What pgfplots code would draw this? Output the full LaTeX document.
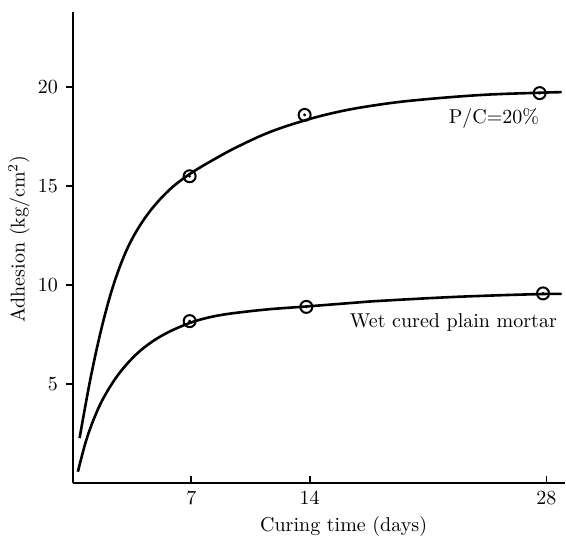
\documentclass[border=0pt]{standalone}
\usepackage{pgfplots}
\pgfplotsset{compat=1.18}
\begin{document}
\begin{tikzpicture}
\useasboundingbox (-36.5pt,-26pt) rectangle (246.5pt,241.5pt);
\begin{axis}[
  at={(0,0)}, anchor=south west,
  scale only axis, width=246pt, height=235.5pt,
  xmin=0, xmax=29.1, ymin=0, ymax=23.8,
  axis x line=bottom, axis y line=left,
  axis line style={-, line width=0.9pt},
  xtick={7,14,28}, ytick={5,10,15,20},
  tick align=inside,
  major tick length=3.5pt,
  tick style={line width=0.9pt, black},
  ytick style={xshift=-3.5pt},
  yticklabel style={xshift=-4pt},
  xticklabel style={yshift=-1pt},
  tick label style={font=\normalsize},
  clip=false,
]
% P/C = 20% curve
\addplot[smooth, tension=0.6, line width=1.3pt] coordinates {
 (0.39,2.27) (0.98,5.04) (1.57,7.40) (2.17,9.38) (2.76,10.91) (3.35,12.09)
 (4.04,13.12) (4.83,14.03) (5.71,14.82) (6.5,15.37) (7.3,15.83) (8.4,16.38)
 (9.66,16.96) (11.6,17.72) (13.7,18.32) (15.6,18.74) (17.5,19.04) (20,19.32)
 (24,19.6) (27.6,19.72) (28.9,19.75)
};
% Wet cured plain mortar curve
\addplot[smooth, tension=0.6, line width=1.3pt] coordinates {
 (0.29,0.57) (0.79,2.18) (1.38,3.54) (1.97,4.55) (2.76,5.57) (3.74,6.5)
 (4.73,7.17) (5.71,7.65) (6.7,8.02) (7.5,8.25) (8.5,8.45) (9.66,8.6) (11.6,8.78)
 (13.8,8.92) (16.5,9.1) (18.1,9.2) (22,9.38) (25,9.48) (27.8,9.55) (28.9,9.56)
};
% markers
\addplot[only marks, mark=o, mark size=3pt, line width=1pt, mark options={fill=white}] coordinates {
 (6.9,15.5) (13.7,18.6) (27.6,19.7)
 (6.9,8.18) (13.8,8.9) (27.8,9.58)
};
\addplot[only marks, mark=*, mark size=0.5pt] coordinates {
 (6.9,15.5) (13.7,18.6) (27.6,19.7)
 (6.9,8.18) (13.8,8.9) (27.8,9.58)
};
\node at (axis cs:24.9,18.4) {P/C=20\%};
\node at (axis cs:22.5,8.1) {Wet cured plain mortar};
\node at (axis description cs:0.55,0) [yshift=-21.5pt] {Curing time (days)};
\node at (axis description cs:0,0.518) [xshift=-27pt, rotate=90] {Adhesion\ (kg/cm$^{2}$)};
\end{axis}
\end{tikzpicture}
\end{document}
